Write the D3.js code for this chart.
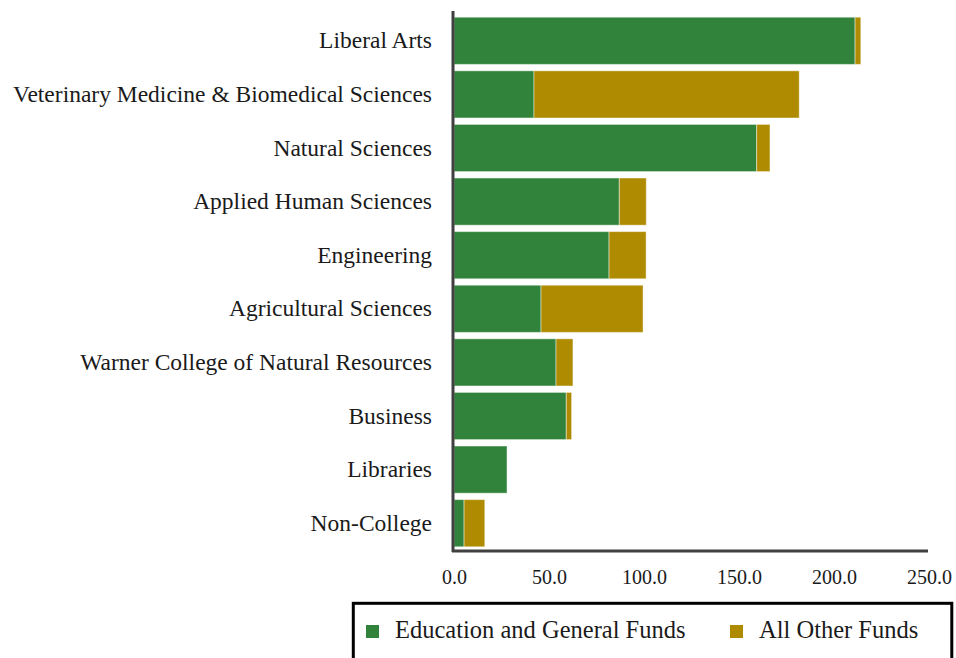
<!DOCTYPE html>
<html><head><meta charset="utf-8">
<script src="https://cdn.jsdelivr.net/npm/d3@7"></script>
<style>body{margin:0;background:#fff}svg{display:block}text{font-family:"Liberation Serif","DejaVu Serif",serif}</style>
</head><body><svg id="c" width="956" height="658"></svg>
<script>
const categories = ["Liberal Arts","Veterinary Medicine & Biomedical Sciences","Natural Sciences","Applied Human Sciences","Engineering","Agricultural Sciences","Warner College of Natural Resources","Business","Libraries","Non-College"];
const egFunds = [211.1, 42.1, 159.3, 87.0, 81.6, 45.8, 53.7, 59.1, 27.9, 5.3];
const otherFunds = [3.0, 139.6, 7.0, 14.2, 19.5, 53.7, 8.9, 2.8, 0.0, 10.9];
const seriesNames = ["Education and General Funds","All Other Funds"];
const xTicks = [0,50,100,150,200,250];
const colors = ["#31833B","#AE8B00"];

const svg = d3.select("#c");
const x = d3.scaleLinear().domain([0,250]).range([454,929]);
const y = d3.scaleBand().domain(categories).range([14,550]).paddingInner(0.12).paddingOuter(0.06);

const data = categories.map((c,i)=>({cat:c, eg:egFunds[i], other:otherFunds[i]}));
const stack = d3.stack().keys(["eg","other"])(data);

svg.append("g").selectAll("g").data(stack).join("g")
  .attr("fill",(d,i)=>colors[i])
  .selectAll("rect").data(d=>d).join("rect")
  .attr("x",d=>x(d[0])).attr("width",d=>Math.max(0,x(d[1])-x(d[0])))
  .attr("y",d=>y(d.data.cat)).attr("height",y.bandwidth())
  .attr("stroke","rgba(255,255,255,0.45)").attr("stroke-width",1);

// y axis
const ya = svg.append("g").attr("transform","translate(453,0)")
  .call(d3.axisLeft(y).tickSize(0).tickPadding(21));
ya.select(".domain").remove();
ya.selectAll("text").attr("font-size",23.5).attr("fill","#1a1a1a").attr("font-family","Liberation Serif, serif");
svg.append("line").attr("x1",453).attr("x2",453).attr("y1",11).attr("y2",552).attr("stroke","#404040").attr("stroke-width",3);

// x axis
const xa = svg.append("g").attr("transform","translate(0,551)")
  .call(d3.axisBottom(x).tickValues(xTicks).tickFormat(d3.format(".1f")).tickSize(0).tickPadding(19));
xa.select(".domain").remove();
xa.selectAll("text").attr("font-size",20).attr("fill","#1a1a1a").attr("font-family","Liberation Serif, serif");
svg.append("line").attr("x1",452).attr("x2",928).attr("y1",551).attr("y2",551).attr("stroke","#404040").attr("stroke-width",3);

// legend
svg.append("rect").attr("x",353.3).attr("y",603.3).attr("width",598.5).attr("height",70).attr("fill","none").attr("stroke","#000").attr("stroke-width",3);
const lg = svg.append("g").selectAll("g").data(seriesNames).join("g")
  .attr("transform",(d,i)=>`translate(${i===0?366:730},0)`);
lg.append("rect").attr("x",0).attr("y",625).attr("width",13).attr("height",13).attr("fill",(d,i)=>colors[i]);
lg.append("text").attr("x",29).attr("y",638).attr("font-size",24.5).attr("fill","#1a1a1a").text(d=>d);
</script></body></html>
